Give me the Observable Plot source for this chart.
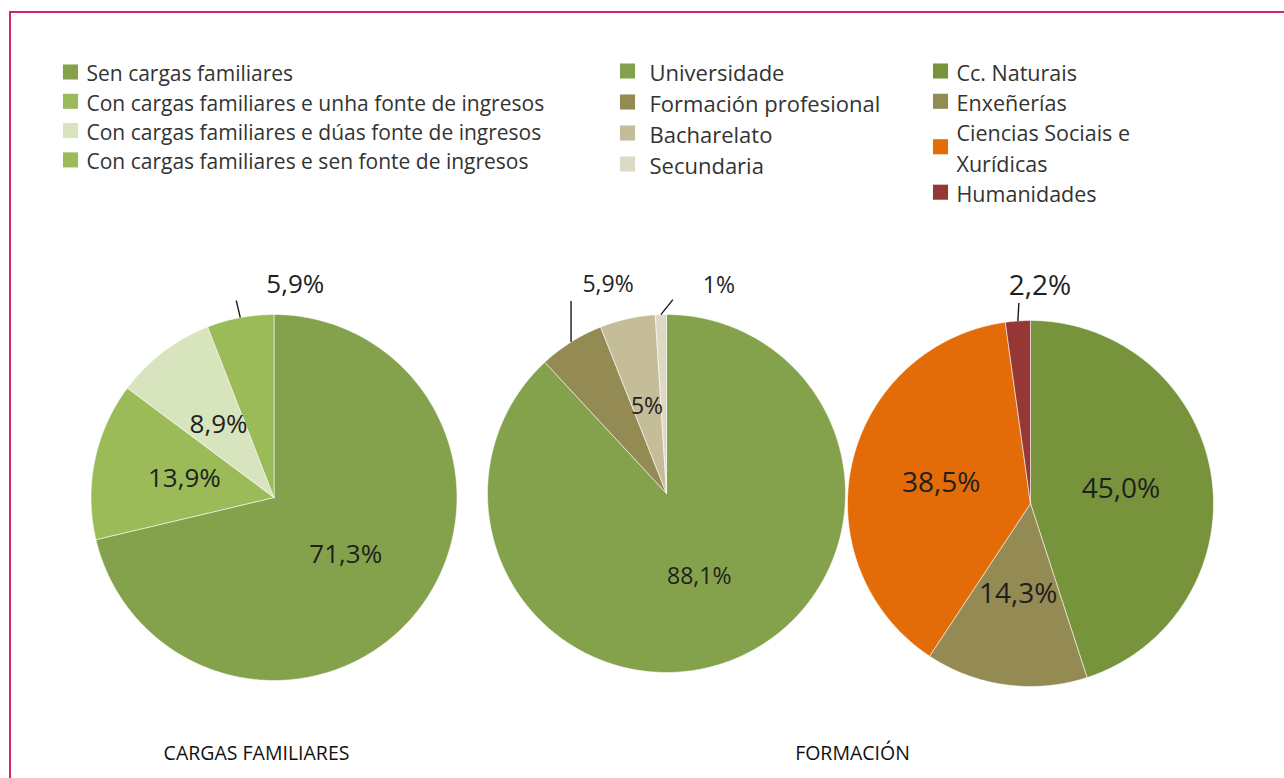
<!DOCTYPE html>
<html>
<head>
<meta charset="utf-8">
<script src="https://cdn.jsdelivr.net/npm/d3@7"></script>
<script src="https://cdn.jsdelivr.net/npm/@observablehq/plot@0.6"></script>
<style>
  body { margin: 0; background: #fff; }
  #wrap { position: relative; width: 1284px; height: 778px; overflow: hidden; }
  #frame { position: absolute; left: 9px; top: 11px; right: -10px; bottom: -10px;
           border-left: 2px solid #d4236f; border-top: 2px solid #d4236f; }
  #chart { position: absolute; left: 0; top: 0; }
</style>
</head>
<body>
<div id="wrap"><div id="frame"></div><div id="chart"></div></div>
<script>
// ---------- DATA ----------
const cargasCategories = ["Sen cargas familiares", "Con cargas familiares e unha fonte de ingresos", "Con cargas familiares e dúas fonte de ingresos", "Con cargas familiares e sen fonte de ingresos"];
const cargasValues = [71.3, 13.9, 8.9, 5.9];
const cargasLabels = ["71,3%", "13,9%", "8,9%", "5,9%"];

const formacionCategories = ["Universidade", "Formación profesional", "Bacharelato", "Secundaria"];
const formacionValues = [88.1, 5.9, 5, 1];
const formacionLabels = ["88,1%", "5,9%", "5%", "1%"];

const areaCategories = ["Cc. Naturais", "Enxeñerías", "Ciencias Sociais e Xurídicas", "Humanidades"];
const areaValues = [45.0, 14.3, 38.5, 2.2];
const areaLabels = ["45,0%", "14,3%", "38,5%", "2,2%"];

const captions = ["CARGAS FAMILIARES", "FORMACIÓN"];

// ---------- STYLE ----------
const cargasColors = ["#84a24c", "#9bbb59", "#d7e4bd", "#9bbb59"];
const formacionColors = ["#84a24c", "#948a54", "#c4bd97", "#ddd9c3"];
const areaColors = ["#77933c", "#948a54", "#e36c09", "#953735"];

// ---------- LAYOUT ----------
const W = 1284, H = 778;
const pies = [
  { id: "c", values: cargasValues, labels: cargasLabels, colors: cargasColors,
    cx: 273.5, cy: 497, r: 183, fontSize: 26,
    outside: { 3: { leader: [-4, -17], text: [59, -16] } } },
  { id: "f", values: formacionValues, labels: formacionLabels, colors: formacionColors,
    cx: 666, cy: 493, r: 179, fontSize: 23,
    outside: { 1: { leader: [0, -41], text: [37, -16] }, 3: { leader: [12, -15], text: [46, -14] } } },
  { id: "a", values: areaValues, labels: areaLabels, colors: areaColors,
    cx: 1030, cy: 503, r: 183, fontSize: 28,
    outside: { 3: { leader: [1, -18], text: [21, -17] } } }
];
const legends = [
  { cats: cargasCategories, colors: cargasColors, sx: 70, tx: 86, y0: 71.5, step: 29.3, wrap: 0, fontSize: 21 },
  { cats: formacionCategories, colors: formacionColors, sx: 627, tx: 649, y0: 70.5, step: 31, wrap: 0, fontSize: 22 },
  { cats: areaCategories, colors: areaColors, sx: 940, tx: 956, y0: 70.5, step: 30.3, wrap: 18, fontSize: 21.5 }
];
const captionPos = [[256, 753], [852, 753]];

function wrapText(s, max) {
  if (!max) return s;
  const words = s.split(" "), lines = [];
  let cur = "";
  for (const w of words) {
    if (cur && (cur + " " + w).length > max) { lines.push(cur); cur = w; }
    else cur = cur ? cur + " " + w : w;
  }
  lines.push(cur);
  return lines.join("\n");
}

// Build slice polygons, labels and leaders from the values
const slicePts = [];
const labelSets = [];
const leaders = [];
pies.forEach(p => {
  const arcs = d3.pie().sort(null).value(d => d)(p.values);
  const rows = [];
  arcs.forEach((a, i) => {
    const key = p.id + i, color = p.colors[i];
    const n = Math.max(2, Math.ceil((a.endAngle - a.startAngle) / 0.01));
    slicePts.push({ key, x: p.cx, y: p.cy, color });
    for (let k = 0; k <= n; k++) {
      const t = a.startAngle + (a.endAngle - a.startAngle) * k / n;
      slicePts.push({ key, x: p.cx + p.r * Math.sin(t), y: p.cy - p.r * Math.cos(t), color });
    }
    slicePts.push({ key, x: p.cx, y: p.cy, color });
    const mid = (a.startAngle + a.endAngle) / 2;
    const o = p.outside[i];
    if (o) {
      const rx = p.cx + p.r * Math.sin(mid), ry = p.cy - p.r * Math.cos(mid);
      const ex = rx + o.leader[0], ey = ry + o.leader[1];
      leaders.push({ x1: rx, y1: ry, x2: ex, y2: ey });
      rows.push({ x: ex + o.text[0], y: ey + o.text[1], text: p.labels[i] });
    } else {
      rows.push({ x: p.cx + 0.5 * p.r * Math.sin(mid), y: p.cy - 0.5 * p.r * Math.cos(mid), text: p.labels[i] });
    }
  });
  labelSets.push({ rows, fontSize: p.fontSize });
});

const legendSquares = [], legendTextSets = [];
legends.forEach(L => {
  let line = 0;
  const rows = [];
  L.cats.forEach((c, i) => {
    const t = wrapText(c, L.wrap);
    const nl = t.split("\n").length;
    const y = L.y0 + (line + (nl - 1) / 2) * L.step;
    legendSquares.push({ x: L.sx, y, color: L.colors[i] });
    rows.push({ x: L.tx, y, text: t });
    line += nl;
  });
  legendTextSets.push({ rows, fontSize: L.fontSize, step: L.step });
});
const captionRows = captions.map((c, i) => ({ x: captionPos[i][0], y: captionPos[i][1], text: c }));

const chart = Plot.plot({
  width: W, height: H, margin: 0,
  x: { domain: [0, W], range: [0, W], axis: null },
  y: { domain: [0, H], range: [0, H], axis: null },
  color: { type: "identity" },
  style: { fontFamily: "'Open Sans', sans-serif", background: "transparent", overflow: "visible" },
  marks: [
    Plot.line(slicePts, { x: "x", y: "y", z: "key", fill: "color", stroke: "#ffffff", strokeWidth: 0.8, strokeOpacity: 0.7, curve: "linear" }),
    Plot.link(leaders, { x1: "x1", y1: "y1", x2: "x2", y2: "y2", stroke: "#1a1a1a", strokeWidth: 1.4 }),
    ...labelSets.map(s => Plot.text(s.rows, { x: "x", y: "y", text: "text", fontSize: s.fontSize, fill: "#1f1f1f" })),
    Plot.dot(legendSquares, { x: "x", y: "y", symbol: "square", r: 8.5, fill: "color", stroke: null }),
    ...legendTextSets.map(s => Plot.text(s.rows, { x: "x", y: "y", text: "text", textAnchor: "start", fontSize: s.fontSize, lineHeight: s.step / s.fontSize, fill: "#333333" })),
    Plot.text(captionRows, { x: "x", y: "y", text: "text", fontSize: 19.5, fill: "#111111" })
  ]
});
document.getElementById("chart").appendChild(chart);
</script>
</body>
</html>
